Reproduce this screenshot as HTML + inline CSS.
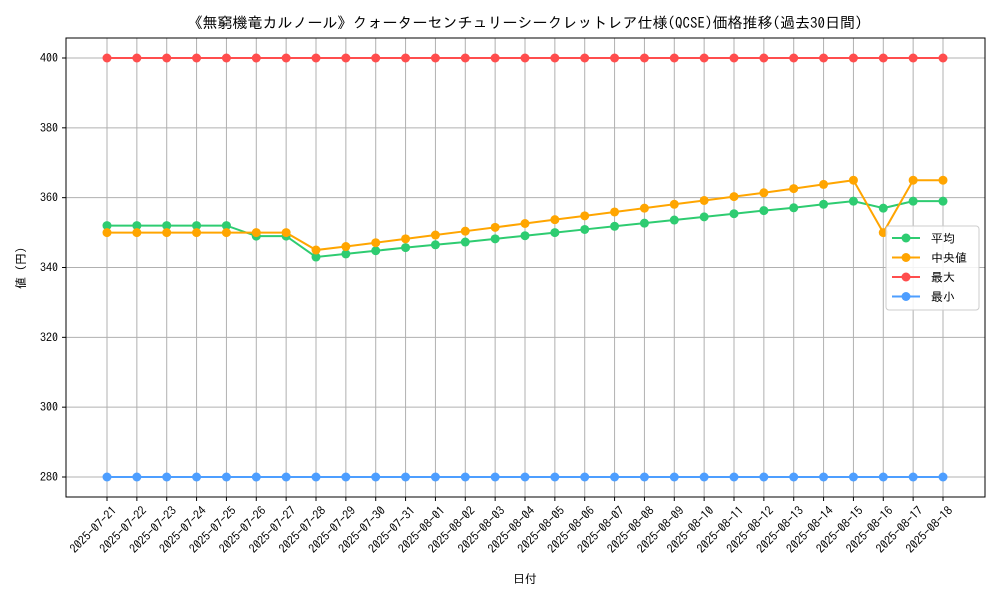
<!DOCTYPE html>
<html><head><meta charset="utf-8"><style>
body{margin:0;background:#fff;font-family:"IPAGothic","Noto Sans CJK JP",sans-serif}
</style></head><body>
<svg id="c" width="1000" height="600" xmlns="http://www.w3.org/2000/svg" font-family="IPAGothic, Noto Sans CJK JP, sans-serif">
<rect width="1000" height="600" fill="#fff"/>
<text x="525" y="28" text-anchor="middle" font-size="15">《無窮機竜カルノール》クォーターセンチュリーシークレットレア仕様(QCSE)価格推移(過去30日間)</text>
<g id="grid"></g><g id="series"></g>
<rect x="66" y="38" width="919" height="459" fill="none" stroke="#000" stroke-width="1"/>
<g id="axes"></g>
<text x="525" y="583" text-anchor="middle" font-size="12">日付</text>
<text transform="translate(25,268) rotate(-90)" text-anchor="middle" font-size="12">値 (円)</text>
<g id="legend"></g>
</svg>
<script>
const dates=["2025-07-21","2025-07-22","2025-07-23","2025-07-24","2025-07-25","2025-07-26","2025-07-27","2025-07-28","2025-07-29","2025-07-30","2025-07-31","2025-08-01","2025-08-02","2025-08-03","2025-08-04","2025-08-05","2025-08-06","2025-08-07","2025-08-08","2025-08-09","2025-08-10","2025-08-11","2025-08-12","2025-08-13","2025-08-14","2025-08-15","2025-08-16","2025-08-17","2025-08-18"];
const avgVals=[352,352,352,352,352,349,349,343,343.9,344.8,345.7,346.5,347.3,348.2,349.1,350,350.9,351.8,352.7,353.6,354.5,355.4,356.3,357.1,358.1,359,357,359,359];
const medianVals=[350,350,350,350,350,350,350,345,346,347.1,348.2,349.3,350.4,351.5,352.6,353.7,354.8,355.9,357,358.1,359.2,360.3,361.4,362.6,363.8,365,350,365,365];
const maxVals=[400,400,400,400,400,400,400,400,400,400,400,400,400,400,400,400,400,400,400,400,400,400,400,400,400,400,400,400,400];
const minVals=[280,280,280,280,280,280,280,280,280,280,280,280,280,280,280,280,280,280,280,280,280,280,280,280,280,280,280,280,280];
const yTicks=[280,300,320,340,360,380,400];
const NS="http://www.w3.org/2000/svg";
const X=i=>107+i*(943-107)/(dates.length-1);
const Y=v=>477-(v-280)*(477-58)/120;
function mk(t,a,p){const e=document.createElementNS(NS,t);for(const k in a)e.setAttribute(k,a[k]);p.appendChild(e);return e;}
const grid=document.getElementById('grid'),axes=document.getElementById('axes'),ser=document.getElementById('series');
dates.forEach((d,i)=>{
 const l=mk('line',{x1:X(i),x2:X(i),y1:38,y2:497,stroke:'#b0b0b0','stroke-width':1},grid);
 
 
 mk('line',{x1:X(i),x2:X(i),y1:497,y2:501,stroke:'#000'},axes);
 const t=mk('text',{x:X(i)+4,y:505,'font-size':12,'text-anchor':'end',transform:`rotate(-45 ${X(i)+4} 505)`,dy:'0.75em'},axes);
 t.textContent=d;
 
 
});
yTicks.forEach(v=>{
 const l=mk('line',{x1:66,x2:985,y1:Y(v),y2:Y(v),stroke:'#b0b0b0','stroke-width':1},grid);
 
 
 mk('line',{x1:62,x2:66,y1:Y(v),y2:Y(v),stroke:'#000'},axes);
 const t=mk('text',{x:58,y:Y(v)+4,'font-size':12,'text-anchor':'end'},axes);
 t.textContent=v;
 
 
});
const series=[["平均",avgVals,"#2ecc71"],["中央値",medianVals,"#ffa500"],["最大",maxVals,"#ff4d4d"],["最小",minVals,"#4d9eff"]];
series.forEach(([name,vals,col])=>{
 const g=mk('g',{},ser);
 
 
 mk('polyline',{points:vals.map((v,i)=>X(i)+','+Y(v)).join(' '),fill:'none',stroke:col,'stroke-width':2},g);
 vals.forEach((v,i)=>{const c=mk('circle',{cx:X(i),cy:Y(v),r:4.5,fill:col},g);
  
  });
});
const lg=document.getElementById('legend');
mk('rect',{x:886,y:226,width:93,height:84,rx:3,fill:'#fff','fill-opacity':0.85,stroke:'#ccc'},lg);
series.forEach(([name,vals,col],k)=>{
 const y=238+k*19.5;
 mk('line',{x1:892,x2:920,y1:y,y2:y,stroke:col,'stroke-width':2},lg);
 mk('circle',{cx:906,cy:y,r:4.5,fill:col},lg);
 const t=mk('text',{x:931,y:y+4.5,'font-size':12},lg);
 t.textContent=(k==1?' ':'')+name;
 
 
});
</script>
</body></html>
